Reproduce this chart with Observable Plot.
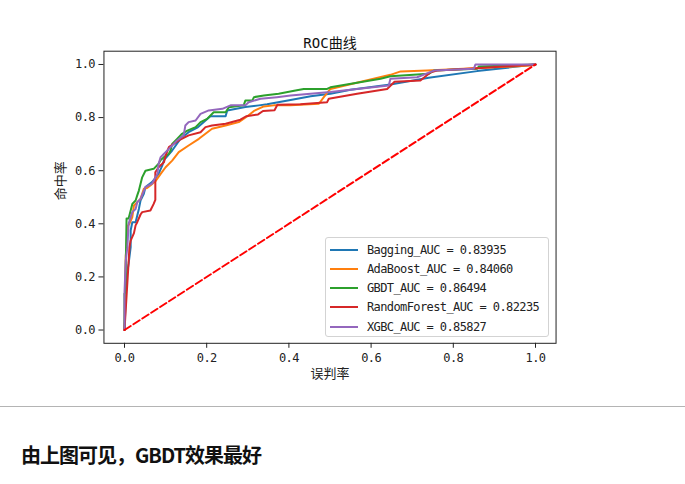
<!DOCTYPE html>
<html>
<head>
<meta charset="utf-8">
<script src="https://cdn.jsdelivr.net/npm/d3@7"></script>
<script src="https://cdn.jsdelivr.net/npm/@observablehq/plot@0.6"></script>
<style>
  body { margin: 0; background: #fff; }
  #wrap { position: relative; width: 685px; height: 484px; overflow: hidden; }
  #wrap svg { position: absolute; left: 0; top: 0; }
  g[aria-label="x-axis tick label"] text, g[aria-label="y-axis tick label"] text { letter-spacing: -0.6px; }
  #legend { position: absolute; left: 325px; top: 237px; width: 224px; height: 100px; box-sizing: border-box;
            border: 1px solid #d3d3d3; border-radius: 3px; background: rgba(255,255,255,0.8); }
  .row { position: absolute; left: 0; width: 100%; height: 0; }
  .sw { position: absolute; left: 4px; width: 28px; height: 2px; top: -1px; }
  .lb { position: absolute; left: 41px; top: -8px; line-height: 16px; font-family: "DejaVu Sans Mono", monospace;
        font-size: 12px; letter-spacing: -0.6px; color: #222; white-space: pre; }
  #rule { position: absolute; left: 0; top: 406px; width: 685px; height: 1px; background: #b4b4b4; }
  #note { position: absolute; left: 21px; top: 443px; font-family: "Noto Sans CJK SC", sans-serif; font-weight: bold;
          font-size: 20px; letter-spacing: -1px; line-height: 24px; color: #111; white-space: nowrap; }
</style>
</head>
<body>
<div id="wrap"></div>
<script>
// ---- data ----
const series = ["Bagging", "AdaBoost", "GBDT", "RandomForest", "XGBC"];
const aucs = ["0.83935", "0.84060", "0.86494", "0.82235", "0.85827"];
const colors = ["#1f77b4", "#ff7f0e", "#2ca02c", "#d62728", "#9467bd"];
const ticks = [0, 0.2, 0.4, 0.6, 0.8, 1.0];
const titleText = "ROC曲线";
const xLabel = "误判率";
const yLabel = "命中率";
const noteText = "由上图可见，GBDT效果最好";

const bagging = [[0,0],[0.005,0.20],[0.010,0.25],[0.015,0.312],[0.015,0.375],[0.019,0.406],[0.027,0.406],[0.035,0.456],[0.039,0.488],[0.047,0.513],[0.051,0.538],[0.067,0.557],[0.083,0.588],[0.092,0.620],[0.096,0.640],[0.116,0.676],[0.136,0.720],[0.156,0.745],[0.177,0.762],[0.193,0.783],[0.209,0.805],[0.246,0.805],[0.250,0.827],[0.294,0.840],[0.327,0.846],[0.347,0.850],[0.404,0.866],[0.453,0.880],[0.501,0.890],[0.550,0.905],[0.647,0.925],[0.740,0.950],[0.858,0.975],[1,1]];
const adaboost = [[0,0],[0.003,0.28],[0.005,0.31],[0.007,0.39],[0.012,0.40],[0.019,0.425],[0.023,0.469],[0.039,0.494],[0.043,0.513],[0.047,0.532],[0.055,0.535],[0.063,0.544],[0.075,0.560],[0.088,0.588],[0.100,0.613],[0.116,0.638],[0.132,0.670],[0.156,0.695],[0.181,0.720],[0.213,0.758],[0.246,0.770],[0.278,0.783],[0.299,0.805],[0.315,0.825],[0.339,0.842],[0.363,0.846],[0.404,0.846],[0.473,0.852],[0.485,0.877],[0.501,0.908],[0.647,0.961],[0.672,0.974],[0.736,0.977],[0.988,0.996],[1,1]];
const gbdt = [[0,0],[0,0.137],[0.002,0.14],[0.005,0.42],[0.010,0.42],[0.015,0.45],[0.019,0.475],[0.027,0.488],[0.031,0.507],[0.035,0.525],[0.043,0.575],[0.051,0.600],[0.071,0.607],[0.083,0.626],[0.088,0.640],[0.096,0.651],[0.108,0.664],[0.112,0.676],[0.116,0.701],[0.128,0.720],[0.140,0.739],[0.153,0.751],[0.173,0.764],[0.185,0.783],[0.201,0.795],[0.217,0.820],[0.246,0.820],[0.254,0.839],[0.290,0.846],[0.294,0.864],[0.311,0.864],[0.315,0.877],[0.339,0.883],[0.375,0.890],[0.416,0.902],[0.436,0.908],[0.493,0.908],[0.501,0.914],[0.623,0.946],[0.647,0.956],[0.740,0.965],[0.753,0.977],[0.858,0.984],[0.862,0.992],[1,1]];
const randomForest = [[0,0],[0.010,0.255],[0.012,0.312],[0.015,0.337],[0.023,0.365],[0.027,0.394],[0.031,0.406],[0.039,0.435],[0.043,0.444],[0.063,0.450],[0.071,0.475],[0.075,0.490],[0.075,0.594],[0.083,0.613],[0.096,0.632],[0.100,0.657],[0.108,0.689],[0.132,0.714],[0.156,0.733],[0.185,0.745],[0.197,0.764],[0.213,0.770],[0.246,0.777],[0.282,0.792],[0.296,0.805],[0.325,0.812],[0.337,0.825],[0.365,0.828],[0.372,0.848],[0.428,0.850],[0.493,0.858],[0.497,0.871],[0.566,0.890],[0.639,0.908],[0.657,0.935],[0.720,0.940],[0.745,0.971],[0.761,0.977],[0.858,0.986],[1,1]];
const xgbc = [[0,0],[0,0.14],[0.003,0.26],[0.007,0.312],[0.010,0.40],[0.015,0.425],[0.019,0.444],[0.027,0.456],[0.031,0.481],[0.039,0.494],[0.051,0.538],[0.067,0.551],[0.080,0.588],[0.083,0.626],[0.088,0.651],[0.092,0.657],[0.100,0.670],[0.116,0.695],[0.128,0.714],[0.144,0.733],[0.148,0.770],[0.156,0.783],[0.173,0.789],[0.185,0.814],[0.205,0.827],[0.238,0.833],[0.258,0.846],[0.294,0.846],[0.302,0.858],[0.331,0.871],[0.371,0.877],[0.404,0.883],[0.501,0.896],[0.566,0.908],[0.643,0.921],[0.647,0.946],[0.712,0.952],[0.753,0.977],[0.850,0.984],[0.854,1.0],[1,1]];
const diagonal = [[0,0],[1,1]];

const curves = [bagging, adaboost, gbdt, randomForest, xgbc];
const rows = series.flatMap((s, i) => curves[i].map(([x, y]) => ({s, x, y})));

const cjk = "\"DejaVu Sans Mono\", \"Noto Sans CJK SC\", sans-serif";
const fmt = d3.format(".1f");

const chart = Plot.plot({
  width: 685,
  height: 400,
  marginLeft: 103.45,
  marginRight: 129.45,
  marginTop: 50.7,
  marginBottom: 57.2,
  x: {domain: [-0.05, 1.05]},
  y: {domain: [-0.05, 1.05]},
  color: {domain: series, range: colors},
  style: {fontFamily: "\"DejaVu Sans Mono\", monospace", fontSize: "12px", color: "#222", background: "transparent"},
  marks: [
    Plot.line(rows, {x: "x", y: "y", z: "s", stroke: "s", strokeWidth: 2}),
    Plot.line(diagonal, {x: d => d[0], y: d => d[1], stroke: "#ff0000", strokeWidth: 2, strokeDasharray: "7.4,3.2"}),
    Plot.frame({stroke: "#222", strokeWidth: 1}),
    Plot.axisX(ticks, {tickSize: 5, tickPadding: 5, tickFormat: fmt, label: null, stroke: "#222"}),
    Plot.axisY(ticks, {tickSize: 5, tickPadding: 4, tickFormat: fmt, label: null, stroke: "#222"}),
    Plot.text([titleText], {frameAnchor: "top", dy: -13, fontSize: 14, fontFamily: cjk, fill: "#111"}),
    Plot.text([xLabel], {frameAnchor: "bottom", dy: 35, fontSize: 13, fontFamily: "\"Noto Sans CJK SC\", sans-serif", fill: "#222"}),
    Plot.text([yLabel], {frameAnchor: "left", dx: -43.5, dy: 3, rotate: -90, fontSize: 13, fontFamily: "\"Noto Sans CJK SC\", sans-serif", fill: "#222"})
  ]
});

const wrap = document.getElementById("wrap");
wrap.appendChild(chart);

// legend
const legend = document.createElement("div");
legend.id = "legend";
series.forEach((s, i) => {
  const row = document.createElement("div");
  row.className = "row";
  row.style.top = (11.5 + i * 19.3) + "px";
  const sw = document.createElement("div");
  sw.className = "sw";
  sw.style.background = colors[i];
  const lb = document.createElement("div");
  lb.className = "lb";
  lb.textContent = `${s}_AUC = ${aucs[i]}`;
  row.appendChild(sw);
  row.appendChild(lb);
  legend.appendChild(row);
});
wrap.appendChild(legend);

const rule = document.createElement("div");
rule.id = "rule";
wrap.appendChild(rule);

const note = document.createElement("div");
note.id = "note";
note.textContent = noteText;
wrap.appendChild(note);
</script>
</body>
</html>
